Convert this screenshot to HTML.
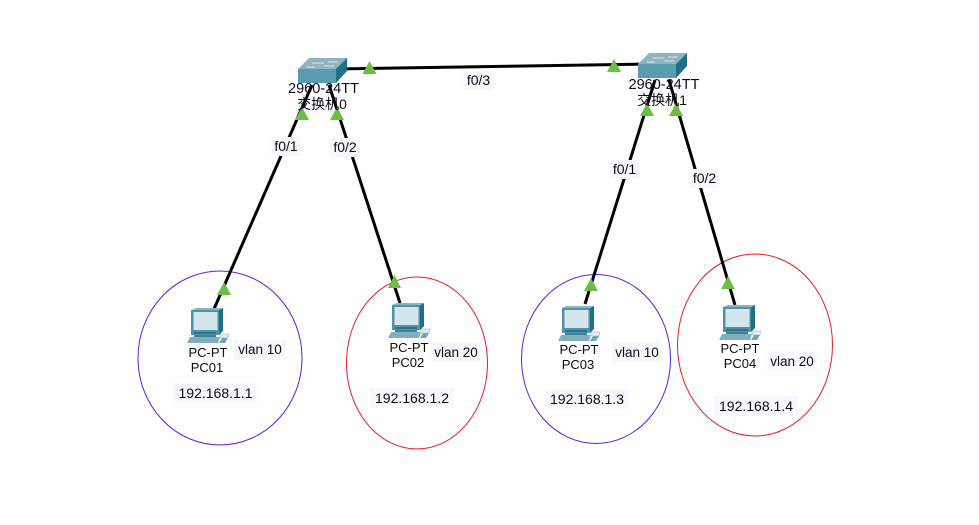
<!DOCTYPE html>
<html><head><meta charset="utf-8"><style>
html,body{margin:0;padding:0;background:#fff}
svg{display:block}
text{font-family:"Liberation Sans","Noto Sans CJK SC",sans-serif;font-size:14px;fill:#0c0c14}
.s{font-size:14.5px}
.p{font-size:13px}
.v{font-size:13.5px}
.l{fill:#f6f8fe}
</style></head><body>
<svg width="979" height="525" viewBox="0 0 979 525" xmlns="http://www.w3.org/2000/svg">
<defs>
<g id="sw">
<polygon points="0,11 11,0 49,0 38,11" fill="#8fb3bf"/>
<polygon points="0,11 38,11 38,25 0,25" fill="#5b9bb0"/>
<polygon points="38,11 49,0 49,13 38,25" fill="#1f6f85"/>
<path d="M14,5h12M30,4h10M9,9h8M26,8h10" stroke="#dfeaee" stroke-width="1"/>
</g>
<g id="pc">
<polygon points="4,2 31,2 36,0 9,0" fill="#8ab4c1"/>
<rect x="4" y="2" width="28" height="25" fill="#4f93a8"/>
<polygon points="32,2 36,0 36,23 32,27" fill="#1f6f85"/>
<rect x="6.500" y="4" width="24" height="18" fill="#d5e5ec"/>
<rect x="7" y="24" width="22" height="2" fill="#2f7389"/>
<rect x="7" y="27" width="22" height="2" fill="#3f8297"/>
<polygon points="3,29 33,29 31,35 0,35" fill="#7fb0c0"/>
<polygon points="33,26 42,26 41,30 33,30" fill="#e4edef" stroke="#9ab" stroke-width=".5"/>
<polygon points="35,30 41,30 38,35 32,35" fill="#6fa5b6"/>
</g>
</defs>
<rect width="979" height="525" fill="#fff"/>
<ellipse cx="220" cy="358" rx="82" ry="87" fill="none" stroke="#5a1fe0"/>
<ellipse cx="417" cy="363" rx="70.500" ry="86" fill="none" stroke="#ee1c25"/>
<ellipse cx="596" cy="359" rx="74.500" ry="84.500" fill="none" stroke="#5a1fe0"/>
<ellipse cx="755" cy="345" rx="77.500" ry="91" fill="none" stroke="#ee1c25"/>
<g stroke="#000" stroke-width="3" fill="none">
<line x1="335" y1="69" x2="650" y2="64"/>
<line x1="312" y1="85" x2="214" y2="309"/>
<line x1="329" y1="85" x2="400" y2="303"/>
<line x1="655" y1="80" x2="585" y2="304"/>
<line x1="669" y1="80" x2="735" y2="305"/>
</g>
<use href="#sw" x="298" y="58"/>
<use href="#sw" x="638" y="53"/>
<g fill="#6cbd45">
<polygon points="369.500,61 376.500,74 362.500,74"/>
<polygon points="614,59 621,72 607,72"/>
<polygon points="302,107 309,120 295,120"/>
<polygon points="337,107 344,120 330,120"/>
<polygon points="647,103 654,116 640,116"/>
<polygon points="676,103 683,116 669,116"/>
<polygon points="224,282 231,295 217,295"/>
<polygon points="394.500,275 401,288 388,288"/>
<polygon points="591,278 598,291 584,291"/>
<polygon points="728,276 735,289 721,289"/>
</g>
<use href="#pc" x="187" y="308"/>
<use href="#pc" x="388" y="303"/>
<use href="#pc" x="558" y="306"/>
<use href="#pc" x="719" y="305"/>
<g class="l">
<rect x="463" y="71" width="31" height="19"/>
<rect x="271" y="137" width="30" height="19"/>
<rect x="330" y="138" width="30" height="19"/>
<rect x="610" y="160" width="29" height="19"/>
<rect x="690" y="169" width="29" height="19"/>
<rect x="234" y="340" width="52" height="20"/>
<rect x="431" y="342" width="50" height="20"/>
<rect x="612" y="342" width="50" height="20"/>
<rect x="767" y="351" width="50" height="20"/>
<rect x="173" y="383" width="84" height="20"/>
<rect x="370" y="388" width="84" height="20"/>
<rect x="545" y="389" width="84" height="20"/>
<rect x="714" y="396" width="84" height="20"/>
</g>
<text class="s" x="323.500" y="93" text-anchor="middle">2960-24TT</text>
<text x="322" y="109" text-anchor="middle">交换机0</text>
<text class="s" x="664" y="89" text-anchor="middle">2960-24TT</text>
<text x="662" y="105" text-anchor="middle">交换机1</text>
<text x="478.500" y="85" text-anchor="middle">f0/3</text>
<text x="286" y="151" text-anchor="middle">f0/1</text>
<text x="345" y="152" text-anchor="middle">f0/2</text>
<text x="624.500" y="174" text-anchor="middle">f0/1</text>
<text x="704.500" y="183" text-anchor="middle">f0/2</text>
<text class="p" x="208" y="357" text-anchor="middle">PC-PT</text>
<text class="p" x="207" y="372" text-anchor="middle">PC01</text>
<text class="p" x="409" y="352" text-anchor="middle">PC-PT</text>
<text class="p" x="408" y="367" text-anchor="middle">PC02</text>
<text class="p" x="579" y="354" text-anchor="middle">PC-PT</text>
<text class="p" x="578" y="369" text-anchor="middle">PC03</text>
<text class="p" x="740" y="353" text-anchor="middle">PC-PT</text>
<text class="p" x="740" y="368" text-anchor="middle">PC04</text>
<text class="v" x="260" y="354" text-anchor="middle">vlan 10</text>
<text class="v" x="456" y="357" text-anchor="middle">vlan 20</text>
<text class="v" x="637" y="357" text-anchor="middle">vlan 10</text>
<text class="v" x="792" y="366" text-anchor="middle">vlan 20</text>
<text x="215.500" y="398" text-anchor="middle">192.168.1.1</text>
<text x="412" y="403" text-anchor="middle">192.168.1.2</text>
<text x="587" y="404" text-anchor="middle">192.168.1.3</text>
<text x="756" y="411" text-anchor="middle">192.168.1.4</text>
</svg>
</body></html>
